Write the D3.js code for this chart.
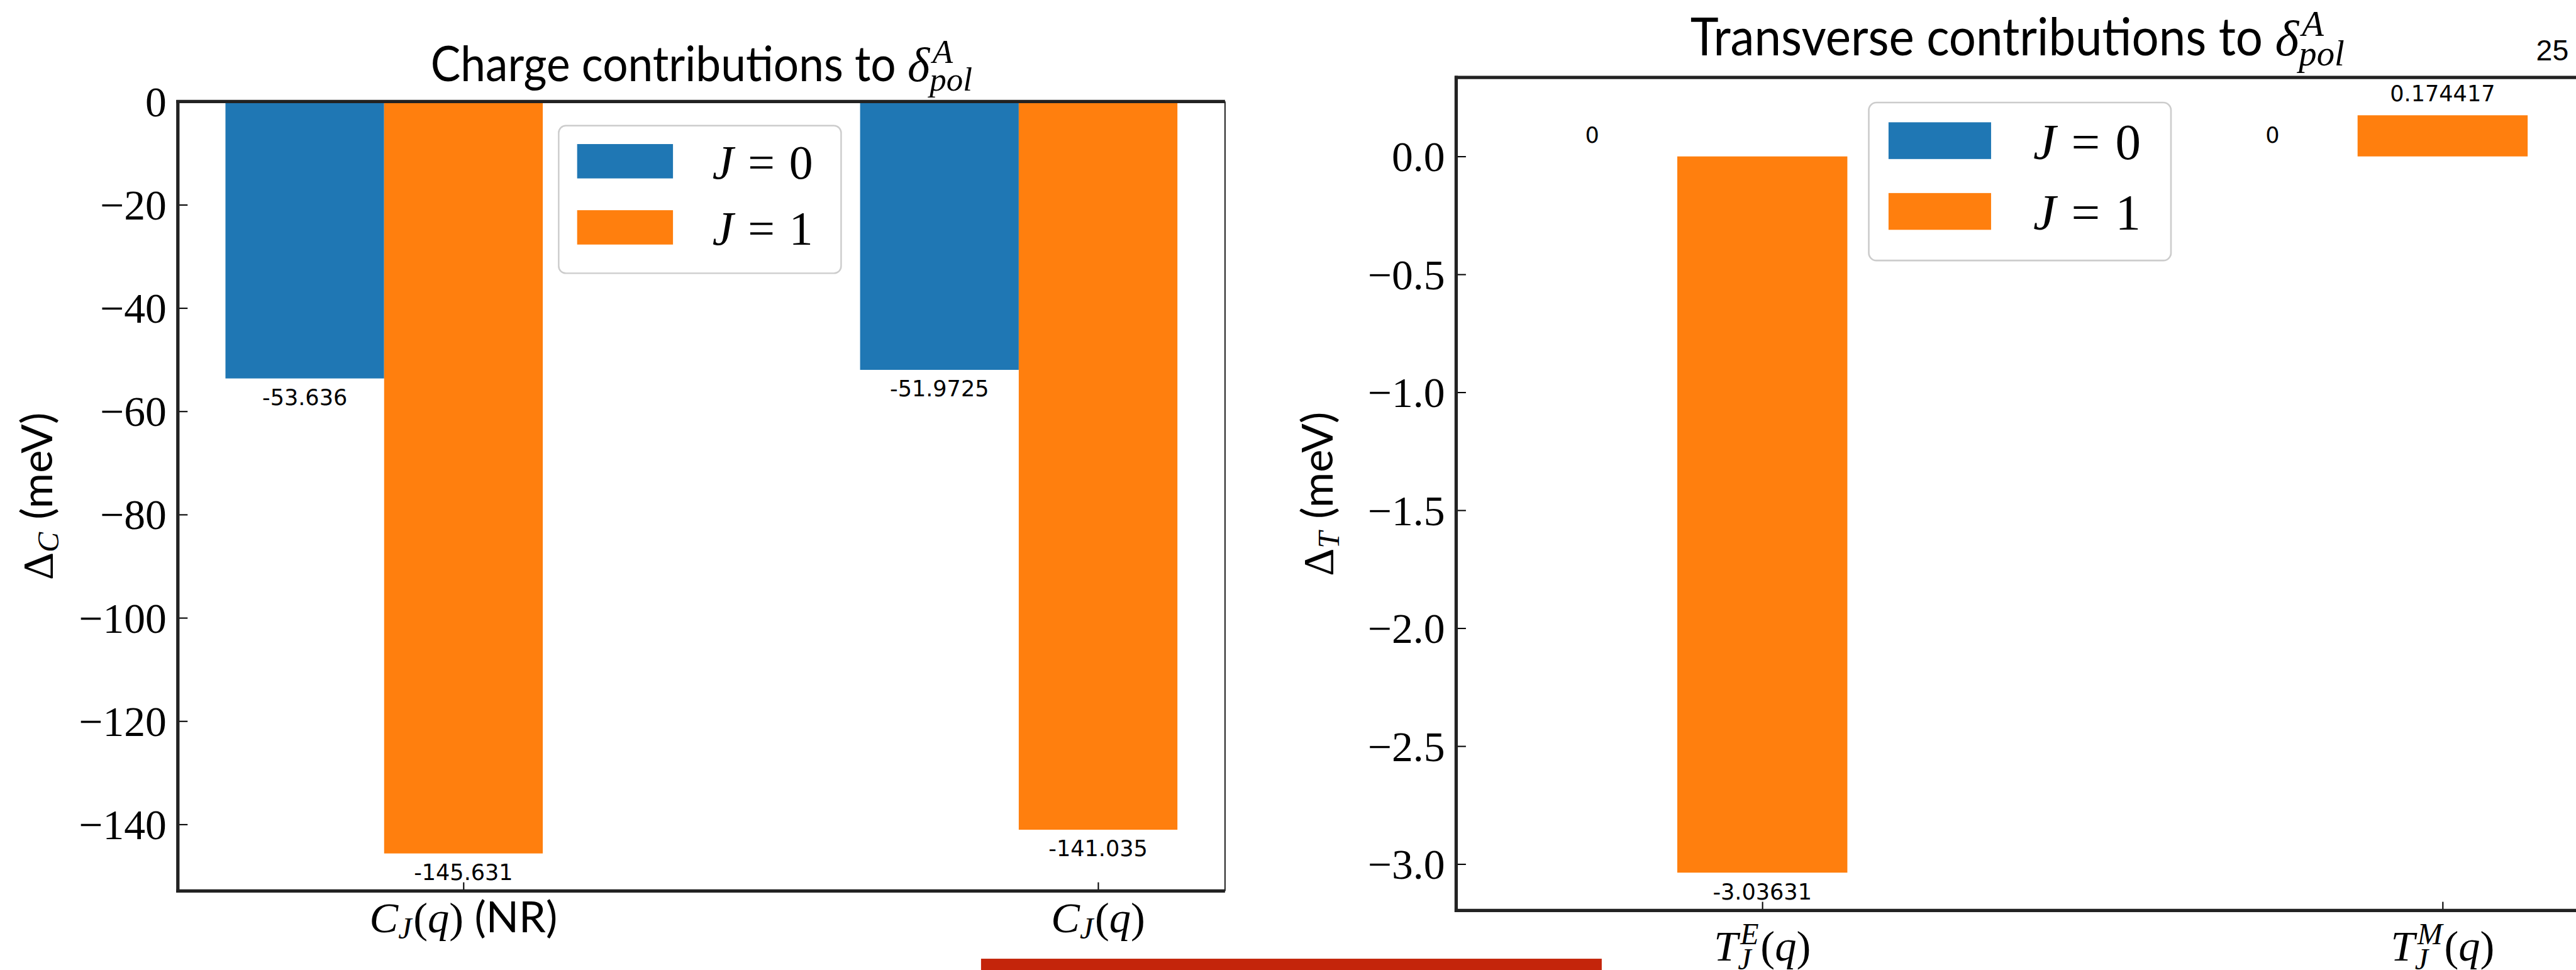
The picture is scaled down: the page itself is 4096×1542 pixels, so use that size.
<!DOCTYPE html>
<html lang="en">
<head>
<meta charset="UTF-8">
<title>Charge and transverse contributions</title>
<script src="https://cdn.jsdelivr.net/npm/d3@7/dist/d3.min.js"></script>
<style>
  html, body { margin: 0; padding: 0; background: #fff; overflow: hidden; }
  svg { display: block; }
  text { white-space: pre; }
</style>
</head>
<body>
<svg id="chart" width="4096" height="1542"></svg>
<script>
// ---------- data ----------
const seriesNames = ["$J=0$", "$J=1$"];
const seriesColors = ["#1f77b4", "#ff7f0e"];

const chargeCats = ["$C_J(q)$ (NR)", "$C_J(q)$"];
const chargeJ0 = [-53.636, -51.9725];
const chargeJ1 = [-145.631, -141.035];
const chargeTicks = [0, -20, -40, -60, -80, -100, -120, -140];

const transCats = ["$T_J^E(q)$", "$T_J^M(q)$"];
const transJ0 = [0, 0];
const transJ1 = [-3.03631, 0.174417];
const transTicks = [0, -0.5, -1.0, -1.5, -2.0, -2.5, -3.0];

const pageNumber = "25";

// ---------- setup ----------
const S = 0.815;               // reference px -> window px
const serif = "'Liberation Serif', 'DejaVu Serif', serif";
const sans = "Lato, 'Open Sans', sans-serif";
const valueFont = "'DejaVu Sans', sans-serif";
const ink = "#222";

const svg = d3.select("#chart");
const root = svg.append("g").attr("transform", `scale(${S})`);

// tiny tex-ish parser: $..$ is math, the rest is sans text
function parseTex(s) {
  const out = [];
  s.split("$").forEach((p, i) => {
    if (!p) return;
    if (i % 2 === 0) { out.push({ t: p, f: "sf" }); return; }
    let j = 0;
    while (j < p.length) {
      const c = p[j];
      if (c === "_" || c === "^") {
        j++;
        let arg;
        if (p[j] === "{") { const e = p.indexOf("}", j); arg = p.slice(j + 1, e); j = e + 1; }
        else { arg = p[j]; j++; }
        let last = out[out.length - 1];
        if (!last || !last.scr) { last = { scr: true }; out.push(last); }
        last[c === "_" ? "sub" : "sup"] = arg;
        continue;
      }
      if (c === "\\") {
        const m = p.slice(j + 1).match(/^[a-zA-Z]+/)[0];
        j += 1 + m.length;
        const g = { delta: "\u03b4", Delta: "\u0394" }[m];
        out.push({ t: g, f: m[0] === m[0].toLowerCase() ? "it" : "rm" });
        continue;
      }
      if (c === "=") { out.push({ t: "=", f: "rm", pad: true }); j++; continue; }
      out.push({ t: c, f: /[a-zA-Z]/.test(c) ? "it" : "rm" });
      j++;
    }
  });
  return out;
}

// one <text> per label, tspans placed one after another
function drawTex(parent, s, size, opt = {}) {
  const text = parent.append("text").attr("fill", "#000");
  const sfSize = opt.sfSize || size;
  let x = 0;
  const span = (str, xx, yy, fam, style, fs) => text.append("tspan")
    .attr("x", xx).attr("y", yy)
    .attr("font-family", fam).attr("font-style", style)
    .attr("font-size", fs).text(str);

  parseTex(s).forEach(tk => {
    if (tk.scr) {
      let w = 0;
      if (tk.sup) {
        const t = span(tk.sup, x + size * 0.06, -size * 0.38, serif, "italic", size * 0.7);
        w = Math.max(w, t.node().getComputedTextLength() + size * 0.06);
      }
      if (tk.sub) {
        const t = span(tk.sub, x, size * (tk.sup ? 0.2 : 0.15), serif, "italic", size * 0.7);
        w = Math.max(w, t.node().getComputedTextLength());
      }
      x += w + size * 0.04;
      return;
    }
    if (tk.pad) x += size * 0.3;
    const sf = tk.f === "sf";
    const t = span(tk.t, x, 0, sf ? sans : serif, tk.f === "it" ? "italic" : "normal", sf ? sfSize : size);
    let w = t.node().getComputedTextLength();
    if (sf && opt.squash) {
      w *= opt.squash;
      t.attr("textLength", w).attr("lengthAdjust", "spacingAndGlyphs");
    }
    x += w;
    if (tk.pad) x += size * 0.3;
  });
  return text;
}

// tex label centred horizontally on (cx, baseline), optionally rotated
function centredTex(parent, s, size, cx, base, rotate, opt) {
  const outer = parent.append("g")
    .attr("transform", `translate(${cx},${base})` + (rotate ? " rotate(-90)" : ""));
  const inner = outer.append("g");
  drawTex(inner, s, size, opt);
  const bb = inner.node().getBBox();
  inner.attr("transform", `translate(${-(bb.x + bb.width / 2)},0)`);
  return outer;
}

function panel(cfg) {
  const g = root.append("g");
  const n = cfg.cats.length;
  const barW = 0.25;

  // x extent of bars, plus matplotlib's 5% margins
  const xlo = -barW - barW / 2, xhi = (n - 1) + barW / 2;
  const xm = (xhi - xlo) * 0.05;
  const x = d3.scaleLinear().domain([xlo - xm, xhi + xm]).range([cfg.x0, cfg.x1]);

  const all = cfg.j0.concat(cfg.j1, [0]);
  let ylo = d3.min(all), yhi = d3.max(all);
  const ym = (yhi - ylo) * 0.05;
  if (ylo < 0) ylo -= ym;
  if (yhi > 0) yhi += ym;
  const y = d3.scaleLinear().domain([ylo, yhi]).range([cfg.y1, cfg.y0]);

  // bars
  [cfg.j0, cfg.j1].forEach((vals, s) => {
    g.append("g").selectAll("rect").data(vals).join("rect")
      .attr("x", (d, i) => x(i - barW + s * barW - barW / 2))
      .attr("width", x(barW) - x(0))
      .attr("y", d => y(Math.max(d, 0)))
      .attr("height", d => Math.abs(y(d) - y(0)))
      .attr("fill", seriesColors[s]);
  });

  // value labels
  [cfg.j0, cfg.j1].forEach((vals, s) => {
    g.append("g").selectAll("text").data(vals).join("text")
      .attr("x", (d, i) => x(i - barW + s * barW))
      .attr("y", d => d < 0 ? y(d) + 52 : y(d) - 27)
      .attr("text-anchor", "middle")
      .attr("font-family", valueFont)
      .attr("font-size", 43)
      .attr("fill", "#000")
      .text(d => String(d));
  });

  // y axis
  const yAxis = d3.axisLeft(y).tickValues(cfg.yTicks)
    .tickSizeInner(-19).tickSizeOuter(0).tickPadding(22)
    .tickFormat(d3.format(cfg.yFmt));
  const ya = g.append("g").attr("transform", `translate(${cfg.x0},0)`).call(yAxis);
  ya.select(".domain").remove();
  ya.selectAll(".tick line").attr("stroke", "#000").attr("stroke-width", 2.5);
  ya.selectAll(".tick text")
    .attr("font-family", serif).attr("font-size", 83).attr("fill", "#000")
    .attr("dy", "0.34em");

  // x axis (ticks only, labels drawn as tex)
  const xAxis = d3.axisBottom(x).tickValues(d3.range(n))
    .tickSizeInner(-17).tickSizeOuter(0).tickFormat("");
  const xa = g.append("g").attr("transform", `translate(0,${cfg.y1})`).call(xAxis);
  xa.select(".domain").remove();
  xa.selectAll(".tick line").attr("stroke", "#000").attr("stroke-width", 2.5);
  cfg.cats.forEach((c, i) => centredTex(g, c, 84, x(i), cfg.xlabBase, false));

  // spines
  const sp = g.append("g").attr("stroke", ink).attr("fill", "none");
  sp.append("line").attr("x1", cfg.x0).attr("x2", cfg.x0).attr("y1", cfg.y0 - 3).attr("y2", cfg.y1 + 3).attr("stroke-width", 6.5);
  sp.append("line").attr("x1", cfg.x0 - 3).attr("x2", cfg.x1).attr("y1", cfg.y0).attr("y2", cfg.y0).attr("stroke-width", 6.5);
  sp.append("line").attr("x1", cfg.x0 - 3).attr("x2", cfg.x1).attr("y1", cfg.y1).attr("y2", cfg.y1).attr("stroke-width", 6.5);
  sp.append("line").attr("x1", cfg.x1).attr("x2", cfg.x1).attr("y1", cfg.y0).attr("y2", cfg.y1).attr("stroke-width", 2.5);

  // title and y label
  centredTex(g, cfg.title, 93 * cfg.k, (cfg.x0 + cfg.x1) / 2, cfg.titleBase, false,
    { sfSize: 95 * cfg.k, squash: 0.92 });
  centredTex(g, cfg.ylabel, 84, cfg.ylabX, (cfg.y0 + cfg.y1) / 2, true);

  // legend
  const lg = g.append("g")
    .attr("transform", `translate(${cfg.legend[0]},${cfg.legend[1]}) scale(${cfg.k})`);
  lg.append("rect").attr("width", 551).attr("height", 288).attr("rx", 14)
    .attr("fill", "#fff").attr("fill-opacity", 0.8)
    .attr("stroke", "#cccccc").attr("stroke-width", 3);
  seriesNames.forEach((name, s) => {
    lg.append("rect").attr("x", 36).attr("y", 36 + s * 129)
      .attr("width", 187).attr("height", 67).attr("fill", seriesColors[s]);
    const tg = lg.append("g").attr("transform", `translate(300,${103 + s * 129})`);
    drawTex(tg, name, 93);
  });
}

panel({
  x0: 347, x1: 2390, y0: 198, y1: 1738, k: 1,
  cats: chargeCats, j0: chargeJ0, j1: chargeJ1,
  yTicks: chargeTicks, yFmt: "d",
  title: "Charge contributions to $\\delta^A_{pol}$",
  ylabel: "$\\Delta_C$ (meV)",
  titleBase: 158, ylabX: 102, xlabBase: 1818, legend: [1090, 245]
});

panel({
  x0: 2841, x1: 5031, y0: 151, y1: 1776, k: 1.07,
  cats: transCats, j0: transJ0, j1: transJ1,
  yTicks: transTicks, yFmt: ".1f",
  title: "Transverse contributions to $\\delta^A_{pol}$",
  ylabel: "$\\Delta_T$ (meV)",
  titleBase: 108, ylabX: 2600, xlabBase: 1874, legend: [3646, 200]
});

// slide decorations
root.append("text").attr("x", 4948).attr("y", 118)
  .attr("font-family", "'Liberation Sans', Arial, sans-serif")
  .attr("font-size", 57).attr("fill", "#000").text(pageNumber);
root.append("rect").attr("x", 1914).attr("y", 1870).attr("width", 1211).attr("height", 30)
  .attr("fill", "#c4250b");
</script>
</body>
</html>
